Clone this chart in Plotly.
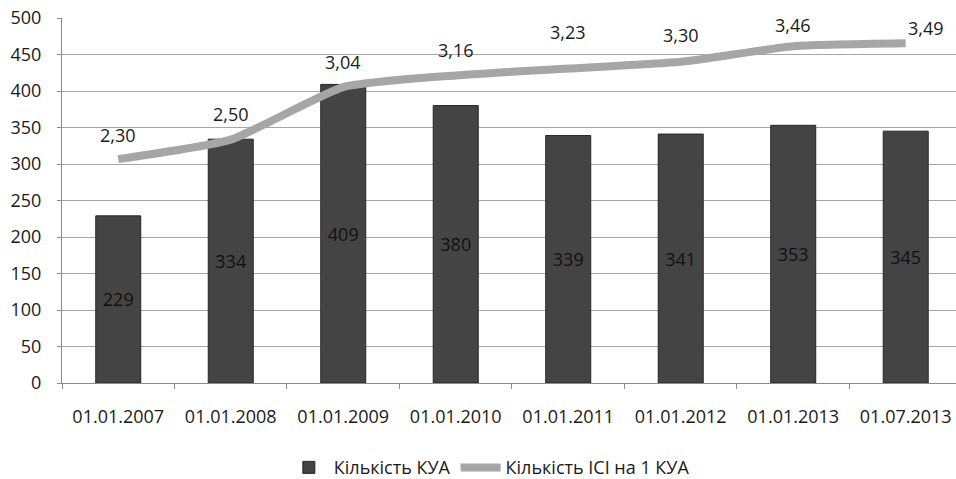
import plotly.graph_objects as go

# Dates of the snapshots
categories = ["01.01.2007", "01.01.2008", "01.01.2009", "01.01.2010",
              "01.01.2011", "01.01.2012", "01.01.2013", "01.07.2013"]
# Number of asset management companies (КУА)
kua_count = [229, 334, 409, 380, 339, 341, 353, 345]
# Number of collective investment institutions (ІСІ) per one КУА
isi_per_kua = [2.30, 2.50, 3.04, 3.16, 3.23, 3.30, 3.46, 3.49]

y_ticks = [0, 50, 100, 150, 200, 250, 300, 350, 400, 450, 500]

# label placement tweaks for the line values (pixels)
label_yshift = [24, 26, 25, 25, 37, 27, 21, 15]
label_xshift = [0, 0, 0, 0, 0, 0, 0, 20]

FONT = "Open Sans, Liberation Sans, sans-serif"
TEXT = "#1a1a1a"
GRID = "#a6a6a6"

fig = go.Figure()

fig.add_trace(go.Bar(
    x=categories,
    y=kua_count,
    name="Кількість КУА",
    width=0.4,
    marker=dict(color="#444444", line=dict(color="#262626", width=1)),
    text=[str(v) for v in kua_count],
    textposition="inside",
    insidetextanchor="middle",
    textangle=0,
    textfont=dict(family=FONT, size=18, color="#111111"),
    cliponaxis=False,
))

fig.add_trace(go.Scatter(
    x=categories,
    y=isi_per_kua,
    name="Кількість ІСІ на 1 КУА",
    mode="lines",
    yaxis="y2",
    line=dict(color="#a6a6a6", width=8, shape="spline", smoothing=0.5),
    cliponaxis=False,
))

for i, (c, v) in enumerate(zip(categories, isi_per_kua)):
    fig.add_annotation(
        x=c, y=v, xref="x", yref="y2",
        text=f"{v:.2f}".replace(".", ","),
        showarrow=False,
        yshift=label_yshift[i], xshift=label_xshift[i],
        font=dict(family=FONT, size=18, color=TEXT),
    )

fig.update_layout(
    width=956, height=479,
    margin=dict(l=62, r=0, t=18, b=96, autoexpand=False),
    paper_bgcolor="white",
    plot_bgcolor="white",
    font=dict(family=FONT, size=18, color=TEXT),
    showlegend=True,
    legend=dict(
        orientation="h",
        x=0.478, xanchor="center",
        y=-0.232, yanchor="middle",
        font=dict(family=FONT, size=18, color=TEXT),
        itemwidth=40,
        bgcolor="rgba(0,0,0,0)",
    ),
    xaxis=dict(
        type="category",
        range=[-0.5, 7.447],
        automargin=False,
        showgrid=False,
        showline=True, linecolor="#8c8c8c", linewidth=1,
        ticks="outside", ticklen=5, tickcolor="#8c8c8c",
        tickson="boundaries",
        ticklabelstandoff=17,
        tickfont=dict(family=FONT, size=18, color=TEXT),
    ),
    yaxis=dict(
        range=[0, 500],
        tickvals=y_ticks,
        automargin=False,
        showgrid=True, gridcolor=GRID, gridwidth=1,
        showline=True, linecolor="#8c8c8c", linewidth=1,
        ticks="outside", ticklen=4, tickcolor="#8c8c8c",
        ticklabelstandoff=12,
        zeroline=False,
        tickfont=dict(family=FONT, size=18, color=TEXT),
    ),
    yaxis2=dict(
        overlaying="y",
        side="right",
        range=[0, 3.75],
        visible=False,
    ),
    bargap=0.6,
)

fig.write_html("out.html")
